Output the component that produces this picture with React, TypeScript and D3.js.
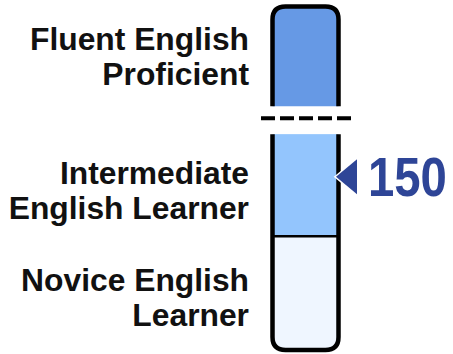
import React, { useEffect, useRef } from 'react';
import * as d3 from 'd3';

// proficiency levels, bottom to top
const levels = ['Novice English Learner', 'Intermediate English Learner', 'Fluent English Proficient'];
const labelLines = [['Novice English', 'Learner'], ['Intermediate', 'English Learner'], ['Fluent English', 'Proficient']];
const levelLow = [77, 125, 168];
const levelHigh = [125, 168, 210];
const levelColors = ['#eff6ff', '#93c5fd', '#6699e5'];
const score = 150;
const scoreLabel = '150';

const App = () => {
  const ref = useRef<SVGSVGElement | null>(null);

  useEffect(() => {
    const svg = d3.select(ref.current);
    svg.selectAll('*').remove();

    const width = 453;
    const height = 354;
    const barLeft = 272.5;
    const barRight = 338.5;
    const radius = 13;
    const gap = 28; // axis break above intermediate level
    const font = '"Liberation Sans", Arial, Helvetica, sans-serif';

    const yBase = d3.scaleLinear()
      .domain([levelLow[0], levelHigh[2]])
      .range([350, 350 - (levelHigh[2] - levelLow[0]) * (102 / 43)]);
    const y = (v: number, i: number) => yBase(v) - (i === 2 ? gap : 0);

    svg.attr('width', width).attr('height', height);
    const g = svg.append('g');

    // top (fluent) segment: rounded top, open bottom
    const fTop = y(levelHigh[2], 2);
    const fBot = y(levelLow[2], 2);
    const topPath = `M${barLeft},${fBot} L${barLeft},${fTop + radius} Q${barLeft},${fTop} ${barLeft + radius},${fTop} L${barRight - radius},${fTop} Q${barRight},${fTop} ${barRight},${fTop + radius} L${barRight},${fBot}`;
    g.append('path').attr('d', topPath + 'Z').attr('fill', levelColors[2]);
    g.append('path').attr('d', topPath).attr('fill', 'none').attr('stroke', '#000').attr('stroke-width', 4.5);

    // lower part: intermediate + novice
    const mTop = y(levelHigh[1], 1);
    const mBot = y(levelLow[1], 1);
    const nBot = y(levelLow[0], 0);
    g.append('rect')
      .attr('x', barLeft).attr('y', mTop)
      .attr('width', barRight - barLeft).attr('height', mBot - mTop)
      .attr('fill', levelColors[1]);
    const botFill = `M${barLeft},${mBot} L${barLeft},${nBot - radius} Q${barLeft},${nBot} ${barLeft + radius},${nBot} L${barRight - radius},${nBot} Q${barRight},${nBot} ${barRight},${nBot - radius} L${barRight},${mBot}Z`;
    g.append('path').attr('d', botFill).attr('fill', levelColors[0]);
    g.append('line')
      .attr('x1', barLeft).attr('x2', barRight)
      .attr('y1', mBot).attr('y2', mBot)
      .attr('stroke', '#000').attr('stroke-width', 2.5);
    const botStroke = `M${barLeft},${mTop} L${barLeft},${nBot - radius} Q${barLeft},${nBot} ${barLeft + radius},${nBot} L${barRight - radius},${nBot} Q${barRight},${nBot} ${barRight},${nBot - radius} L${barRight},${mTop}`;
    g.append('path').attr('d', botStroke).attr('fill', 'none').attr('stroke', '#000').attr('stroke-width', 4.5);

    // break line
    const breakY = (fBot + mTop) / 2 - 2;
    g.append('line')
      .attr('x1', 261).attr('x2', 351)
      .attr('y1', breakY).attr('y2', breakY)
      .attr('stroke', '#000').attr('stroke-width', 4)
      .attr('stroke-dasharray', '14 5');

    // level labels
    const labelShift = [4, 5, 0];
    levels.forEach((name, i) => {
      const center = (y(levelLow[i], i) + y(levelHigh[i], i)) / 2;
      const t = g.append('text')
        .attr('text-anchor', 'end')
        .attr('font-family', font)
        .attr('font-weight', 'bold')
        .attr('font-size', 31.8)
        .attr('fill', '#111')
        .attr('aria-label', name);
      labelLines[i].forEach((line, j) => {
        t.append('tspan')
          .attr('x', 249)
          .attr('y', center - 6 + labelShift[i] + j * 35)
          .text(line);
      });
    });

    // score marker
    const sy = y(score, 1);
    const tipX = barRight - 2.5;
    const tri = `M${tipX},${sy} L${tipX + 21},${sy - 17.5} L${tipX + 21},${sy + 17.5}Z`;
    g.append('path')
      .attr('d', tri)
      .attr('fill', '#2e4597')
      .attr('stroke', '#fff')
      .attr('stroke-width', 3);
    g.append('path').attr('d', tri).attr('fill', '#2e4597');
    g.append('text')
      .attr('transform', `translate(368,${sy + 19}) scale(0.86,1)`)
      .attr('font-family', font)
      .attr('font-weight', 'bold')
      .attr('font-size', 55)
      .attr('fill', '#2e4597')
      .text(scoreLabel);
  }, []);

  return <svg ref={ref} style={{ position: 'absolute', left: 0, top: 0 }} />;
};

export default App;
